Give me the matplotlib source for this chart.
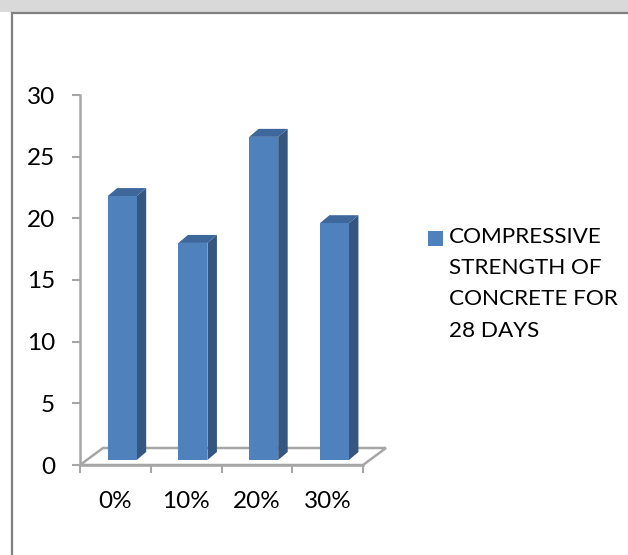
import matplotlib
matplotlib.use("Agg")
import matplotlib.pyplot as plt
from matplotlib.patches import Polygon, Rectangle
from matplotlib.transforms import offset_copy

# data
categories = ["0%", "10%", "20%", "30%"]
strength_28d = [21.4, 17.6, 26.2, 19.2]
series_label = "COMPRESSIVE\nSTRENGTH OF\nCONCRETE FOR\n28 DAYS"
y_ticks = [0, 5, 10, 15, 20, 25, 30]

plt.rcParams['font.family'] = ['Lato', 'DejaVu Sans']
W, H = 628, 555
fig = plt.figure(figsize=(W / 100, H / 100), dpi=100)
fig.patch.set_facecolor("white")

# grey strip and frame like the page crop
fig.patches.append(Rectangle((0, 1 - 12 / H), 1, 12 / H, transform=fig.transFigure,
                             facecolor="#d9d9d9", edgecolor="none"))
fig.add_artist(plt.Line2D([12 / W, 12 / W], [0, 1 - 13 / H], transform=fig.transFigure,
                          color="#808080", lw=1.6))
fig.add_artist(plt.Line2D([12 / W, 1], [1 - 13 / H, 1 - 13 / H], transform=fig.transFigure,
                          color="#808080", lw=1.6))

ax = fig.add_axes([80 / W, (H - 465) / H, 283 / W, 370 / H])
ax.set_xlim(-0.5, 3.5)
ax.set_ylim(0, 30)
ax.patch.set_alpha(0)

# pixel -> data scale, for the 3d look
px_x = 4 / 283.0
px_y = 30 / 370.0

# floor
fdx, fdy = 23 * px_x, 17 * px_y
floor = Polygon([(-0.5, 0), (3.5, 0), (3.5 + fdx, fdy), (-0.5 + fdx, fdy)],
                closed=True, facecolor="white", edgecolor="#a6a6a6", lw=1.8,
                clip_on=False, zorder=1)
ax.add_patch(floor)

# bars: front face sits part way back on the floor
front = offset_copy(ax.transData, fig=fig, x=6.8, y=5, units='dots')
bw = 0.41
ddx, ddy = 9.5 * px_x, 8 * px_y
xs = list(range(len(categories)))
ax.bar(xs, strength_28d, width=bw, color="#4f81bd", transform=front, zorder=3)
for x, v in zip(xs, strength_28d):
    r = x + bw / 2
    l = x - bw / 2
    side = Polygon([(r, 0), (r, v), (r + ddx, v + ddy), (r + ddx, ddy)], closed=True,
                   facecolor="#35577f", edgecolor="none", transform=front, zorder=2)
    top = Polygon([(l, v), (r, v), (r + ddx, v + ddy), (l + ddx, v + ddy)], closed=True,
                  facecolor="#3e689b", edgecolor="none", transform=front, zorder=2)
    ax.add_patch(side)
    ax.add_patch(top)

# axes styling
for s in ["top", "right"]:
    ax.spines[s].set_visible(False)
ax.spines["left"].set_color("#a6a6a6")
ax.spines["left"].set_linewidth(1.8)
ax.spines["bottom"].set_color("#a6a6a6")
ax.spines["bottom"].set_linewidth(1.8)
ax.set_yticks(y_ticks)
ax.tick_params(axis="y", length=6, width=1.5, color="#a6a6a6", pad=12,
               labelsize=17.5, labelcolor="black")
ax.set_xticks([-0.5, 0.5, 1.5, 2.5, 3.5])
ax.set_xticklabels([])
ax.set_xticks(xs, minor=True)
ax.set_xticklabels(categories, minor=True)
ax.tick_params(axis="x", which="major", length=6, width=1.5, color="#a6a6a6")
ax.tick_params(axis="x", which="minor", length=0, pad=19, labelsize=17.5, labelcolor="black")

# legend drawn by hand so the swatch sits on the first line
fig.patches.append(Rectangle((428 / W, 1 - 246 / H), 15 / W, 15 / H, transform=fig.transFigure,
                             facecolor="#4f81bd", edgecolor="none"))
fig.text(449 / W, 1 - 227 / H, series_label, fontsize=16.2, va="top", ha="left",
         linespacing=1.7)

fig.savefig("out.png", dpi=100)
